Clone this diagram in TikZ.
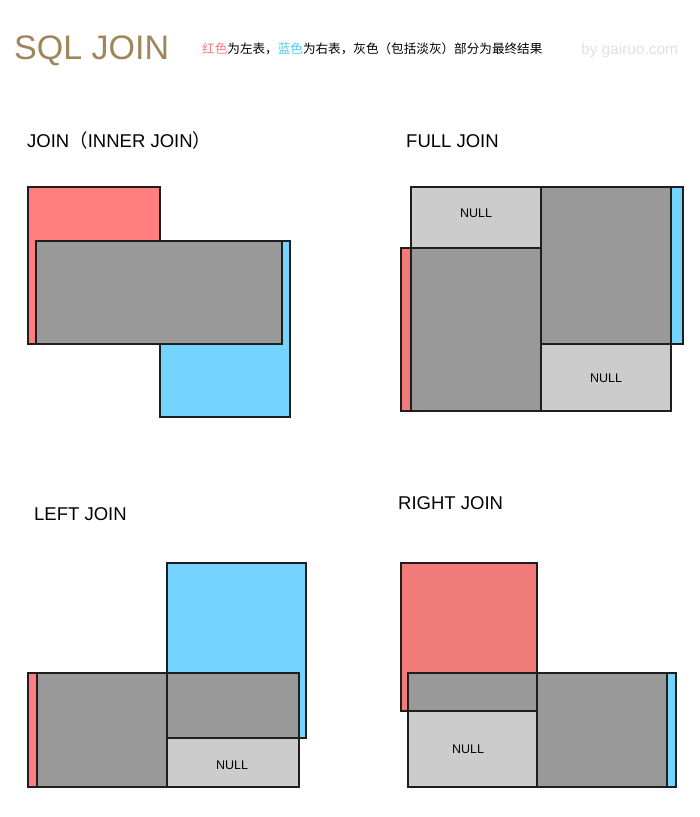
\documentclass[tikz,border=0pt]{standalone}
\usepackage{fontspec}
\setmainfont{Liberation Sans}
\newfontfamily\cjk{Noto Sans CJK SC}
\definecolor{redA}{RGB}{255,127,127}
\definecolor{redB}{RGB}{240,123,120}
\definecolor{blueA}{RGB}{116,212,255}
\definecolor{darkG}{RGB}{153,153,153}
\definecolor{lightG}{RGB}{204,204,204}
\definecolor{titleC}{RGB}{160,133,90}
\definecolor{edgeC}{RGB}{30,30,30}
\definecolor{credC}{RGB}{255,120,120}
\definecolor{cblueC}{RGB}{80,200,245}
\definecolor{byC}{RGB}{225,225,225}
\tikzset{
  tbl/.style={draw=edgeC, line width=1.2pt},
  heading/.style={anchor=base west, inner sep=0pt, font=\fontsize{18.5}{20}\selectfont},
  nulltext/.style={inner sep=0pt, font=\fontsize{12.5}{14}\selectfont}
}
\begin{document}
\begin{tikzpicture}[x=1pt,y=-1pt]
\useasboundingbox[fill=white] (0,0) rectangle (700,817);
% header
\node[anchor=base west, inner sep=0pt, text=titleC, font=\fontsize{34}{36}\selectfont] (title) at (14,59) {SQL JOIN};
\node[anchor=base west, inner sep=0pt, font=\cjk\fontsize{12.6}{14}\selectfont] (sub) at (202,53)
  {\textcolor{credC}{红色}为左表，\textcolor{cblueC}{蓝色}为右表，灰色（包括淡灰）部分为最终结果};
\node[anchor=base west, inner sep=0pt, text=byC, font=\fontsize{15.4}{17}\selectfont] (by) at (581,54) {by gairuo.com};
% headings
\node[heading] (h1) at (27,147) {JOIN{\cjk （}INNER JOIN{\cjk ）}};
\node[heading] (h2) at (406,147) {FULL JOIN};
\node[heading] (h3) at (34,520) {LEFT JOIN};
\node[heading] (h4) at (398,509) {RIGHT JOIN};
% INNER JOIN
\draw[tbl, fill=redA] (28,187) rectangle (160,344);
\draw[tbl, fill=blueA] (160,241) rectangle (290,417);
\draw[tbl, fill=darkG] (36,241) rectangle (282,344);
% FULL JOIN
\draw[tbl, fill=redB] (401,248) rectangle (411,411);
\draw[tbl, fill=blueA] (671,187) rectangle (683,344);
\draw[tbl, fill=lightG] (411,187) rectangle (541,248);
\draw[tbl, fill=darkG] (411,248) rectangle (541,411);
\draw[tbl, fill=darkG] (541,187) rectangle (671,344);
\draw[tbl, fill=lightG] (541,344) rectangle (671,411);
\node[nulltext] (n1) at (476,213) {NULL};
\node[nulltext] (n2) at (606,378) {NULL};
% LEFT JOIN
\draw[tbl, fill=blueA] (167,563) rectangle (306,738);
\draw[tbl, fill=redA] (28,673) rectangle (37,787);
\draw[tbl, fill=darkG] (37,673) rectangle (167,787);
\draw[tbl, fill=darkG] (167,673) rectangle (299,738);
\draw[tbl, fill=lightG] (167,738) rectangle (299,787);
\node[nulltext] (n3) at (232,765) {NULL};
% RIGHT JOIN
\draw[tbl, fill=redB] (401,563) rectangle (537,711);
\draw[tbl, fill=blueA] (667,673) rectangle (676,787);
\draw[tbl, fill=darkG] (408,673) rectangle (537,711);
\draw[tbl, fill=lightG] (408,711) rectangle (537,787);
\draw[tbl, fill=darkG] (537,673) rectangle (667,787);
\node[nulltext] (n4) at (468,749) {NULL};
\end{tikzpicture}
\end{document}
